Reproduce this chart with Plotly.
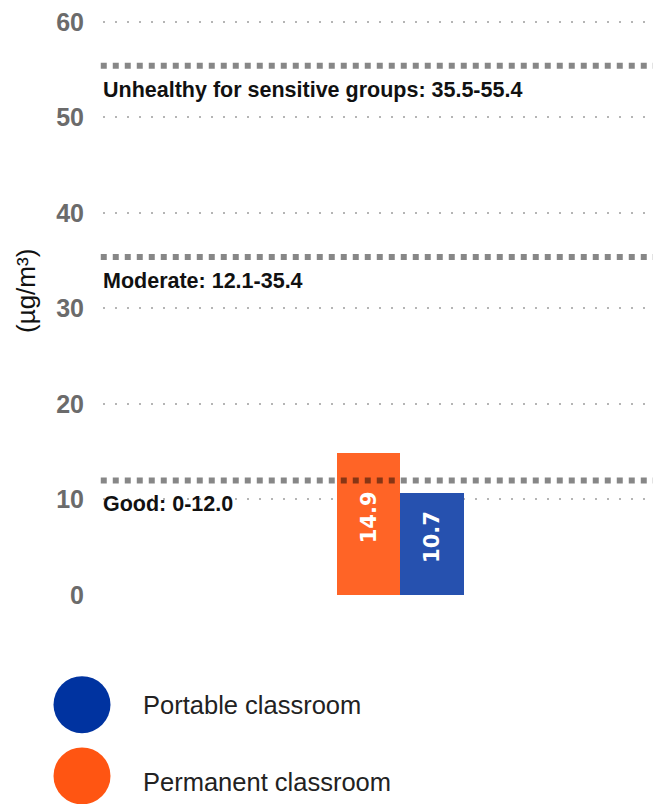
import plotly.graph_objects as go

# ---- data ----
categories = ["Permanent classroom", "Portable classroom"]
values = [14.9, 10.7]
bar_colors = ["#FF6426", "#2651AF"]

legend_labels = ["Portable classroom", "Permanent classroom"]
legend_colors = ["#0033A0", "#FF5512"]

thresholds = [55.4, 35.4, 12.0]
threshold_labels = ["Unhealthy for sensitive groups: 35.5-55.4",
                    "Moderate: 12.1-35.4",
                    "Good: 0-12.0"]

y_ticks = [0, 10, 20, 30, 40, 50, 60]
y_title = "(µg/m³)"

# ---- layout geometry (screen pixels; page body has an 8px margin) ----
OFF = 8
Y_TOP = 60.2                      # a hair above 60 so the top gridline/label is drawn
PX_PER_UNIT = (595 - 20) / 60.0
W, H = 661 - OFF, 804 - OFF
L, R, B = 103 - OFF, 661 - OFF, 595 - OFF
T = B - PX_PER_UNIT * Y_TOP


def px(x):
    return (x - OFF - L) / (R - L)


def py(y):
    return (B - (y - OFF)) / (B - T)


fig = go.Figure()
fig.add_trace(go.Bar(
    x=categories, y=values,
    marker=dict(color=bar_colors, line=dict(width=0)),
    showlegend=False,
    hoverinfo="skip",
))

shapes = []
annotations = []

# value labels inside bars (rotated), centred a little above the bar middle
for c, v in zip(categories, values):
    annotations.append(dict(text=f"<b>{v}</b>", x=c, y=v / 2, xref="x", yref="y",
                            yshift=7, textangle=-90, showarrow=False,
                            xanchor="center", yanchor="middle",
                            font=dict(family="DejaVu Sans", size=21, color="white")))

for t, lab in zip(thresholds, threshold_labels):
    shapes.append(dict(type="line", xref="paper", yref="y",
                       x0=-0.004, x1=1.0, y0=t, y1=t, layer="above",
                       line=dict(color="rgba(0,0,0,0.47)", width=6, dash="6px,6px")))
    annotations.append(dict(text=lab, xref="paper", yref="y", x=px(101), y=t,
                            xanchor="left", yanchor="top", yshift=-10, showarrow=False,
                            font=dict(family="Liberation Sans", size=21.5, color="#111", weight="bold")))

legend_cy = [705, 776.5]
legend_ty = [705, 783]
for lab, col, cy, ty in zip(legend_labels, legend_colors, legend_cy, legend_ty):
    shapes.append(dict(type="circle", xref="paper", yref="paper",
                       xsizemode="pixel", ysizemode="pixel",
                       xanchor=px(82), yanchor=py(cy),
                       x0=-28.5, x1=28.5, y0=-28.5, y1=28.5,
                       fillcolor=col, line=dict(width=0)))
    annotations.append(dict(text=lab, xref="paper", yref="paper", x=px(141), y=py(ty),
                            xanchor="left", yanchor="middle", showarrow=False,
                            font=dict(family="Liberation Sans", size=25.5, color="#222")))

annotations.append(dict(text=y_title, xref="paper", yref="paper", x=px(26), y=py(290),
                        xanchor="center", yanchor="middle", textangle=-90, showarrow=False,
                        font=dict(family="Liberation Sans", size=26, color="#111")))

fig.update_layout(
    width=W, height=H,
    margin=dict(l=L, r=W - R, t=T, b=H - B, pad=0),
    paper_bgcolor="white", plot_bgcolor="white",
    bargap=0,
    showlegend=False,
    shapes=shapes,
    annotations=annotations,
    xaxis=dict(type="category", categoryorder="array", categoryarray=categories,
               range=[-4.18, 4.606], showticklabels=False, showgrid=False,
               zeroline=False, showline=False, fixedrange=True),
    yaxis=dict(range=[0, Y_TOP], tickvals=y_ticks, showgrid=True,
               gridcolor="#b5b5b5", gridwidth=2, griddash="2px,10px",
               zeroline=False, showline=False, ticks="",
               ticklabelstandoff=18, ticklabeloverflow="allow",
               tickfont=dict(family="Liberation Sans", size=25, color="#6b6b6b", weight="bold"),
               fixedrange=True),
)

fig.write_html("out.html")
